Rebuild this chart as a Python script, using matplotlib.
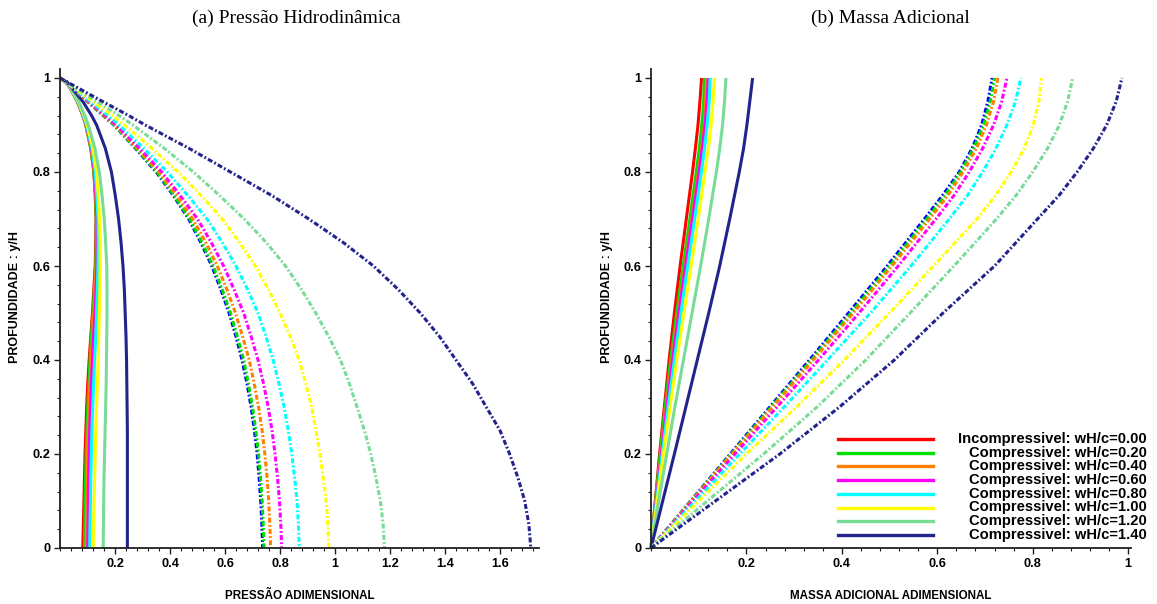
import matplotlib
matplotlib.use("Agg")
import matplotlib.pyplot as plt
from matplotlib.ticker import MultipleLocator, FixedLocator, FixedFormatter

# ---------------- data ----------------
labels = ["Incompressivel: wH/c=0.00", "Compressivel: wH/c=0.20", "Compressivel: wH/c=0.40",
          "Compressivel: wH/c=0.60", "Compressivel: wH/c=0.80", "Compressivel: wH/c=1.00",
          "Compressivel: wH/c=1.20", "Compressivel: wH/c=1.40"]
solid_colors = ["#ff0000", "#00e000", "#ff8000", "#ff00ff", "#00ffff", "#ffff00", "#78dc96", "#23238e"]
dash_colors = ["#0000ff", "#00e000", "#ff8000", "#ff00ff", "#00ffff", "#ffff00", "#78dc96", "#23238e"]

# (a) pressure: depth levels y/H
y_left = [1.0, 0.99, 0.97, 0.95, 0.92, 0.90, 0.85, 0.80, 0.75, 0.70, 0.65, 0.60, 0.55, 0.50,
          0.45, 0.40, 0.35, 0.30, 0.25, 0.20, 0.15, 0.10, 0.05, 0.0]
p_red     = [0, .025, .045, .063, .083, .094, .112, .123, .128, .131, .130, .128, .123, .118,
             .112, .106, .101, .097, .094, .091, .089, .087, .085, .083]
p_green   = [0, .025, .045, .063, .083, .094, .112, .124, .129, .132, .132, .130, .125, .120,
             .114, .109, .105, .101, .098, .095, .093, .091, .090, .089]
p_orange  = [0, .025, .045, .064, .084, .095, .113, .125, .130, .133, .133, .131, .127, .123,
             .118, .113, .109, .105, .102, .100, .098, .097, .096, .095]
p_magenta = [0, .025, .046, .064, .084, .096, .114, .126, .131, .135, .135, .134, .131, .127,
             .122, .118, .114, .111, .108, .106, .104, .103, .102, .101]
p_cyan    = [0, .025, .046, .065, .085, .097, .116, .128, .134, .138, .139, .138, .136, .133,
             .130, .126, .122, .119, .116, .114, .112, .111, .109, .108]
p_yellow  = [0, .026, .047, .066, .087, .099, .120, .133, .139, .144, .146, .146, .145, .143,
             .141, .139, .136, .133, .130, .128, .126, .124, .122, .121]
p_lgreen  = [0, .026, .048, .068, .090, .103, .127, .143, .153, .161, .166, .170, .171, .171,
             .170, .169, .168, .166, .164, .162, .160, .159, .158, .157]
p_navy    = [0, .028, .055, .083, .115, .133, .165, .187, .201, .213, .222, .229, .234, .237,
             .240, .242, .243, .244, .245, .245, .245, .245, .245, .245]

pd_blue    = [0, .022, .061, .100, .157, .196, .275, .350, .412, .468, .512, .552, .585, .615,
              .640, .662, .680, .695, .707, .717, .724, .730, .734, .737]
pd_green   = [0, .022, .061, .100, .158, .197, .277, .353, .415, .472, .516, .557, .590, .620,
              .645, .668, .685, .700, .712, .722, .729, .735, .739, .742]
pd_orange  = [0, .022, .062, .102, .160, .200, .282, .360, .424, .483, .530, .572, .607, .638,
              .664, .688, .706, .722, .735, .745, .753, .759, .763, .766]
pd_magenta = [0, .022, .063, .105, .165, .205, .290, .370, .437, .500, .550, .595, .633, .668,
              .695, .720, .740, .757, .771, .782, .791, .798, .803, .806]
pd_cyan    = [0, .023, .066, .110, .175, .215, .305, .390, .465, .535, .590, .640, .682, .720,
              .749, .775, .796, .815, .830, .843, .853, .862, .867, .870]
pd_yellow  = [0, .025, .072, .120, .190, .235, .335, .430, .513, .590, .653, .710, .758, .800,
              .837, .870, .894, .915, .931, .945, .957, .968, .974, .978]
pd_lgreen  = [0, .028, .080, .135, .215, .265, .380, .485, .580, .670, .750, .820, .878, .930,
              .977, 1.02, 1.052, 1.08, 1.107, 1.13, 1.149, 1.165, 1.175, 1.18]
pd_navy    = [0, .031, .093, .155, .250, .310, .470, .620, .770, .905, 1.03, 1.14, 1.23, 1.31,
              1.38, 1.44, 1.50, 1.55, 1.60, 1.635, 1.665, 1.69, 1.705, 1.712]

# (b) added mass
y_right = [0.0, 0.10, 0.20, 0.30, 0.40, 0.50, 0.60, 0.70, 0.75, 0.80, 0.85, 0.90, 0.95, 1.0]
m_red     = [0, .009, .018, .028, .038, .049, .061, .074, .0805, .087, .093, .0985, .1025, .106]
m_green   = [0, .0095, .0192, .0295, .041, .0537, .0675, .0815, .088, .0949, .1012, .1065, .1103, .112]
m_orange  = [0, .0103, .0208, .0318, .0438, .0571, .0713, .0857, .0925, .0994, .106, .1116, .1145, .1165]
m_magenta = [0, .0108, .0218, .033, .0452, .0584, .0725, .0868, .094, .1007, .1074, .1133, .1175, .120]
m_cyan    = [0, .0116, .0235, .0358, .0489, .0626, .0769, .0915, .0985, .1056, .1121, .1177, .1219, .124]
m_yellow  = [0, .013, .026, .040, .054, .069, .084, .099, .106, .113, .120, .126, .130, .133]
m_lgreen  = [0, .016, .033, .050, .068, .086, .104, .121, .129, .137, .144, .150, .154, .157]
m_navy    = [0, .0245, .049, .073, .097, .121, .144, .165, .175, .185, .194, .201, .207, .213]

md_blue    = [0, .083, .166, .249, .332, .414, .495, .573, .611, .646, .673, .693, .706, .715]
md_green   = [0, .084, .168, .252, .336, .419, .500, .578, .616, .649, .676, .697, .711, .720]
md_orange  = [0, .085, .170, .255, .340, .424, .505, .584, .622, .654, .682, .703, .718, .727]
md_magenta = [0, .088, .176, .264, .351, .436, .518, .597, .635, .667, .695, .718, .735, .746]
md_cyan    = [0, .093, .186, .279, .370, .460, .545, .625, .663, .695, .723, .746, .764, .775]
md_yellow  = [0, .100, .200, .305, .405, .500, .592, .683, .722, .755, .782, .801, .813, .818]
md_lgreen  = [0, .118, .236, .348, .450, .543, .635, .724, .765, .800, .831, .856, .873, .884]
md_navy    = [0, .135, .270, .395, .510, .612, .720, .810, .855, .893, .927, .955, .975, .987]

press_solid = [p_red, p_green, p_orange, p_magenta, p_cyan, p_yellow, p_lgreen, p_navy]
press_dash = [pd_blue, pd_green, pd_orange, pd_magenta, pd_cyan, pd_yellow, pd_lgreen, pd_navy]
mass_solid = [m_red, m_green, m_orange, m_magenta, m_cyan, m_yellow, m_lgreen, m_navy]
mass_dash = [md_blue, md_green, md_orange, md_magenta, md_cyan, md_yellow, md_lgreen, md_navy]

# ---------------- style ----------------
plt.rcParams['lines.scale_dashes'] = False
SANS = ['Liberation Sans', 'DejaVu Sans']
SERIF = ['Liberation Serif', 'DejaVu Serif']
LW = 2.2
DASH = (3.6, 1.6, 1.3, 1.6)

W, H = 1157, 604
fig = plt.figure(figsize=(W / 100, H / 100), dpi=100)
fig.patch.set_facecolor('white')

def px_rect(x0, x1, ytop, ybot):
    return [x0 / W, (H - ybot) / H, (x1 - x0) / W, (ybot - ytop) / H]

ax1 = fig.add_axes(px_rect(60, 538.5, 68.6, 548))
ax2 = fig.add_axes(px_rect(651, 1131, 68.6, 548))

def style_axes(ax, xmax, xmajor):
    ax.set_xlim(0, xmax)
    ax.set_ylim(0, 1.02)
    for s in ('top', 'right'):
        ax.spines[s].set_visible(False)
    for s in ('left', 'bottom'):
        ax.spines[s].set_linewidth(1.3)
        ax.spines[s].set_color('#202020')
    xt = [i * xmajor for i in range(1, int(xmax / xmajor + 1e-6) + 1)]
    ax.xaxis.set_major_locator(FixedLocator(xt))
    ax.xaxis.set_major_formatter(FixedFormatter([("%g" % round(v, 2)) for v in xt]))
    ax.xaxis.set_minor_locator(MultipleLocator(xmajor / 5))
    yt = [0, 0.2, 0.4, 0.6, 0.8, 1.0]
    ax.yaxis.set_major_locator(FixedLocator(yt))
    ax.yaxis.set_major_formatter(FixedFormatter(["0", "0.2", "0.4", "0.6", "0.8", "1"]))
    ax.yaxis.set_minor_locator(MultipleLocator(0.04))
    ax.tick_params(which='major', length=4, width=1.0, color='#202020', labelsize=9.2, pad=3)
    ax.tick_params(which='minor', length=2.5, width=0.8, color='#202020')
    for t in ax.get_xticklabels() + ax.get_yticklabels():
        t.set_fontfamily(SANS)
        t.set_fontweight('bold')

style_axes(ax1, 1.74, 0.2)
style_axes(ax2, 1.006, 0.2)

for data, c in zip(press_solid, solid_colors):
    ax1.plot(data, y_left, color=c, lw=LW, solid_capstyle='butt', solid_joinstyle='round', clip_on=False)
for data, c in zip(press_dash, dash_colors):
    ax1.plot(data, y_left, color=c, lw=LW, dashes=DASH, dash_capstyle='butt', clip_on=False)
for data, c in zip(mass_solid, solid_colors):
    ax2.plot(data, y_right, color=c, lw=LW, solid_capstyle='butt', solid_joinstyle='round', clip_on=False)
for data, c in zip(mass_dash, dash_colors):
    ax2.plot(data, y_right, color=c, lw=LW, dashes=DASH, dash_capstyle='butt', clip_on=False)

# legend (b)
row0 = (548 - 439) / 479.4
drow = 13.7 / 479.4
for i, (lab, c) in enumerate(zip(labels, solid_colors)):
    yy = row0 - i * drow
    ax2.plot([0.3896, 0.5875], [yy, yy], transform=ax2.transAxes, color=c, lw=2.4, clip_on=False)
    ax2.text(1.0333, yy, lab, transform=ax2.transAxes, ha='right', va='center',
             fontsize=10.6, fontweight='bold', family=SANS, clip_on=False)

# axis labels and titles
fig.text(15 / W, (H - 297) / H, "PROFUNDIDADE : y/H", rotation=90, ha='center', va='center',
         fontsize=9, fontweight='bold', family=SANS)
fig.text(607 / W, (H - 297) / H, "PROFUNDIDADE : y/H", rotation=90, ha='center', va='center',
         fontsize=9, fontweight='bold', family=SANS)
fig.text(300 / W, (H - 596) / H, "PRESSÃO ADIMENSIONAL", ha='center', va='center',
         fontsize=8.4, fontweight='bold', family=SANS)
fig.text(891 / W, (H - 596) / H, "MASSA ADICIONAL ADIMENSIONAL", ha='center', va='center',
         fontsize=8.4, fontweight='bold', family=SANS)
fig.text(296 / W, (H - 18) / H, "(a) Pressão Hidrodinâmica", ha='center', va='center',
         fontsize=14, family=SERIF)
fig.text(890 / W, (H - 18) / H, "(b) Massa Adicional", ha='center', va='center',
         fontsize=14, family=SERIF)

fig.savefig("out.png", dpi=100, facecolor='white')
